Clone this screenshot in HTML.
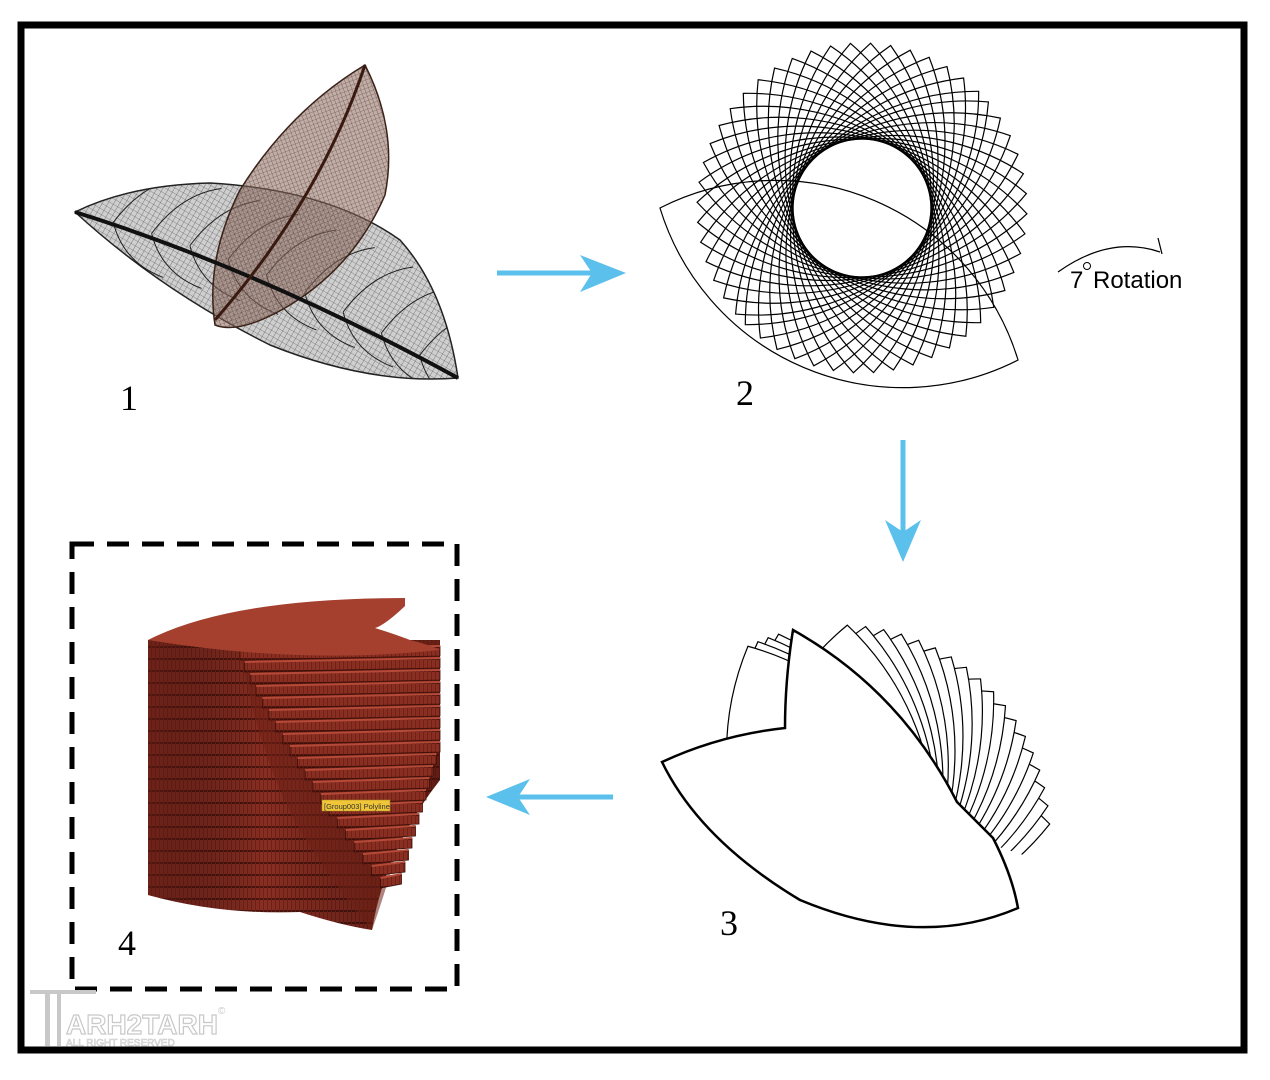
<!DOCTYPE html>
<html><head><meta charset="utf-8"><style>
html,body{margin:0;padding:0;background:#fff;}
svg{display:block;}
</style></head><body>
<svg id="s" width="1270" height="1080" viewBox="0 0 1270 1080" xmlns="http://www.w3.org/2000/svg">
<defs>
<pattern id="mesh" width="5" height="5" patternUnits="userSpaceOnUse" patternTransform="rotate(30)">
<path d="M0 0H5M0 0V5" stroke="#444" stroke-width="0.6" fill="none"/>
</pattern>
<pattern id="mesh2" width="4" height="4" patternUnits="userSpaceOnUse" patternTransform="rotate(-20)">
<path d="M0 0H4M0 0V4" stroke="#5b3a2e" stroke-width="0.6" fill="none"/>
</pattern>
<pattern id="stripe" width="4" height="12" patternUnits="userSpaceOnUse">
<rect width="4" height="12" fill="#8a2e22"/>
<rect y="10" width="4" height="2" fill="#4a140e"/>
<rect x="3" width="1" height="12" fill="#6e2218"/>
</pattern>
<linearGradient id="cyl" x1="0" x2="1">
<stop offset="0" stop-color="#5a1a12" stop-opacity="0.6"/>
<stop offset="0.4" stop-color="#000" stop-opacity="0"/>
<stop offset="1" stop-color="#3a0e08" stop-opacity="0.5"/>
</linearGradient>
<clipPath id="leafclip"><path d="M75 212 Q130 185 210 183 Q330 190 400 240 Q445 290 458 378 Q370 385 270 345 Q160 290 75 212Z"/></clipPath>
<clipPath id="fanclip"><path d="M600 560 L1100 560 L1100 880 L640 730Z"/></clipPath>
</defs>
<rect x="21" y="25" width="1223" height="1025" fill="none" stroke="#000" stroke-width="7"/>

<!-- Panel 1 leaves -->
<g>
<path d="M75 212 Q130 185 210 183 Q330 190 400 240 Q445 290 458 378 Q370 385 270 345 Q160 290 75 212Z" fill="#cfcfcf"/>
<path d="M75 212 Q130 185 210 183 Q330 190 400 240 Q445 290 458 378 Q370 385 270 345 Q160 290 75 212Z" fill="url(#mesh)" stroke="#222" stroke-width="1.5"/>
<g clip-path="url(#leafclip)"><path id="veins" stroke="#222" stroke-width="1" fill="none"/></g>
<path d="M365 65 Q398 130 385 195 Q355 265 290 305 Q240 335 215 325 Q205 260 240 190 Q290 110 365 65Z" fill="#8a6a5e" fill-opacity="0.55"/>
<path d="M365 65 Q398 130 385 195 Q355 265 290 305 Q240 335 215 325 Q205 260 240 190 Q290 110 365 65Z" fill="url(#mesh2)" stroke="#3a2218" stroke-width="1.5"/>
<path d="M75 212 Q260 270 458 378" stroke="#111" stroke-width="4" fill="none"/>
<path d="M365 65 Q320 200 215 320" stroke="#3a1a10" stroke-width="3" fill="none"/>
</g>
<text x="120" y="410" font-family="Liberation Serif" font-size="36">1</text>

<!-- Arrows -->
<g fill="#5bc0eb" stroke="#5bc0eb">
<line x1="497" y1="273" x2="600" y2="273" stroke-width="5"/>
<path d="M580 255 L626 273 L580 292 L592 273Z" stroke="none"/>
<line x1="903" y1="440" x2="903" y2="540" stroke-width="5"/>
<path d="M885 520 L903 562 L921 520 L903 532Z" stroke="none"/>
<line x1="613" y1="797" x2="510" y2="797" stroke-width="5"/>
<path d="M530 779 L486 797 L530 815 L518 797Z" stroke="none"/>
</g>

<!-- Panel 2 -->
<g id="p2" fill="none" stroke="#000" stroke-width="1.2"></g>
<text x="736" y="405" font-family="Liberation Serif" font-size="36">2</text>
<path d="M1058 272 Q1110 235 1160 252" fill="none" stroke="#000" stroke-width="1.2"/>
<path d="M1158 238 L1162 254" fill="none" stroke="#000" stroke-width="1.2"/>
<text x="1070" y="288" font-family="Liberation Sans" font-size="24">7</text>
<circle cx="1087" cy="266" r="3.5" fill="none" stroke="#000" stroke-width="1"/>
<text x="1093" y="288" font-family="Liberation Sans" font-size="24">Rotation</text>

<!-- Panel 3 -->
<g id="fan" clip-path="url(#fanclip)" fill="#fff" stroke="#000" stroke-width="1.2"></g>
<path d="M662 762 Q720 735 785 728 Q785 680 793 630 Q900 690 957 802 L993 838 Q1012 875 1018 908 Q920 950 800 900 Q700 840 662 762Z" fill="#fff" stroke="#000" stroke-width="2.5"/>
<text x="720" y="935" font-family="Liberation Serif" font-size="36">3</text>

<!-- Panel 4 -->
<rect x="72" y="544" width="385" height="445" fill="none" stroke="#000" stroke-width="5" stroke-dasharray="22 13"/>
<g>
<path d="M148 640 L148 895 Q220 915 300 912 Q340 925 372 930 Q385 850 440 780 L440 640 Z" fill="url(#stripe)"/>
<path d="M148 640 L148 895 Q220 915 300 912 Q340 925 372 930 Q385 850 440 780 L440 640 Z" fill="url(#cyl)"/>
<path d="M240 650 Q260 760 300 830 Q330 880 372 930 Q400 850 420 760 Q436 700 440 640 Z" fill="#6e2016" fill-opacity="0.55"/>
<g id="steps"></g>
<path d="M148 640 Q230 598 405 598 L405 606 Q385 625 375 628 Q400 636 410 640 Q430 645 440 650 Q300 665 148 640Z" fill="#a5402f"/>
<rect x="322" y="800" width="68" height="11" fill="#f0c638" stroke="#a58a20" stroke-width="0.5"/>
<text x="324" y="809" font-family="Liberation Sans" font-size="7.5" fill="#333">[Group003] Polyline</text>
</g>
<text x="118" y="955" font-family="Liberation Serif" font-size="36">4</text>

<!-- watermark -->
<g fill="#c8c8c8" font-family="Liberation Sans">
<rect x="30" y="990" width="66" height="4"/>
<rect x="45" y="994" width="5" height="52"/>
<rect x="57" y="994" width="4" height="52"/>
<text x="66" y="1034" font-size="28" font-weight="bold" fill="none" stroke="#c8c8c8" stroke-width="1.2">ARH2TARH</text>
<text x="66" y="1046" font-size="10" fill="none" stroke="#c8c8c8" stroke-width="0.6">ALL RIGHT RESERVED</text>
<text x="218" y="1014" font-size="10">©</text>
</g>
</svg>
<script>
var NS="http://www.w3.org/2000/svg";
function lens(L,R,sw){var p=document.createElementNS(NS,"path");
p.setAttribute("d","M"+(-L)+" 0 A"+R+" "+R+" 0 0 1 "+L+" 0 A"+R+" "+R+" 0 0 1 "+(-L)+" 0Z");
if(sw)p.setAttribute("stroke-width",sw);return p;}
var p2=document.getElementById("p2");
for(var i=0;i<26;i++){var l=lens(165,232);
l.setAttribute("transform","translate(862,208) rotate("+(-40+i*7)+")");p2.appendChild(l);}
var b=lens(194.5,254);b.setAttribute("transform","translate(839,284) rotate(23)");p2.appendChild(b);
var fan=document.getElementById("fan");
var angs=[];for(var i=20;i>=3;i--)angs.push(77+i*5);angs.push(73,70,67,64);
angs.forEach(function(a){var l=lens(210,280);
l.setAttribute("transform","translate(840,835) rotate("+a+")");fan.appendChild(l);});
var st=document.getElementById("steps");
for(var i=0;i<22;i++){var y=650+i*12;var x0=240+i*3.5+Math.pow(i,1.4)*1.2;var x1=440-Math.max(0,i-8)*3.5;
if(x1<=x0+10)break;var r=document.createElementNS(NS,"path");
r.setAttribute("d","M"+x0+" "+y+" L"+x1+" "+(y-4)+" L"+x1+" "+(y+6)+" L"+x0+" "+(y+10)+"Z");
r.setAttribute("fill","url(#stripe)");r.setAttribute("stroke","#3a0e08");r.setAttribute("stroke-width","0.8");st.appendChild(r);
var t=document.createElementNS(NS,"path");t.setAttribute("d","M"+x0+" "+y+" L"+x1+" "+(y-4));
t.setAttribute("stroke","#b54a38");t.setAttribute("stroke-width","2");st.appendChild(t);}
var d="";
for(var k=1;k<10;k++){var t=k/10;var x=75+t*383,y=212+t*166-20*Math.sin(t*Math.PI);
d+="M"+x+" "+y+" q30 -40 70 -45 M"+x+" "+y+" q10 40 50 55 ";}
document.getElementById("veins").setAttribute("d",d);
</script>
</body></html>
